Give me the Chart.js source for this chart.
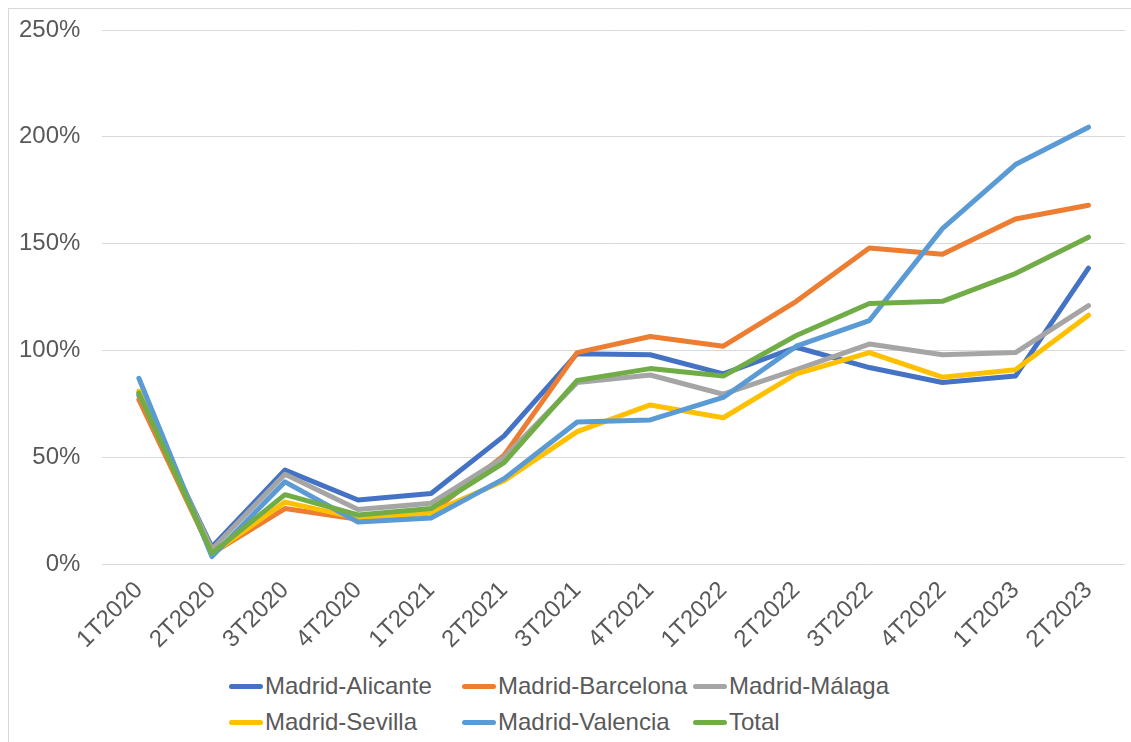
<!DOCTYPE html>
<html>
<head>
<meta charset="utf-8">
<script src="https://cdn.jsdelivr.net/npm/chart.js@4"></script>
<style>
  html, body { margin: 0; padding: 0; background: #fff; }
  body { width: 1131px; height: 742px; position: relative; overflow: hidden; font-family: "Liberation Sans", Arial, sans-serif; }
  #frame { position: absolute; left: 8px; top: 8px; width: 1140px; height: 760px; border: 1px solid #d9d9d9; }
  #wrap { position: absolute; left: 9px; top: 9px; width: 1122px; height: 657px; }
  #legend { position: absolute; left: 229px; top: 671px; display: grid; grid-template-columns: 233px 231px auto; row-gap: 6px; }
  .item { display: flex; align-items: center; height: 30px; font-size: 24px; color: #595959; white-space: nowrap; }
  .swatch { width: 34px; height: 5px; border-radius: 3px; margin-right: 2px; }
</style>
</head>
<body>
<div id="frame"></div>
<div id="wrap"><canvas id="trend-chart"></canvas></div>
<div id="legend"></div>
<script>
const quarters = ['1T2020', '2T2020', '3T2020', '4T2020', '1T2021', '2T2021', '3T2021',
                  '4T2021', '1T2022', '2T2022', '3T2022', '4T2022', '1T2023', '2T2023'];

const alicante  = [79, 8, 44, 30, 33, 60, 98.5, 98, 89, 101.5, 92, 85, 88, 138.5];
const barcelona = [77, 5, 26, 21, 24, 51, 99, 106.5, 102, 123, 148, 145, 161.5, 168];
const malaga    = [80, 7, 42, 25.5, 28.5, 50, 85, 88.5, 79.5, 91, 103, 98, 99, 121];
const sevilla   = [81, 5, 29, 21.5, 24, 39, 62, 74.5, 68.5, 89, 99, 87.5, 91, 116.5];
const valencia  = [87, 3.5, 38.5, 19.7, 21.6, 40, 66.5, 67.5, 78, 102, 114, 157, 187, 204.5];
const total     = [80, 5, 32.5, 23, 26, 47.5, 86, 91.5, 88, 107, 122, 123, 136, 153];

const yTicks = [0, 50, 100, 150, 200, 250];

const series = [
  { label: 'Madrid-Alicante',  data: alicante,  color: '#4472C4' },
  { label: 'Madrid-Barcelona', data: barcelona, color: '#ED7D31' },
  { label: 'Madrid-Málaga',    data: malaga,    color: '#A5A5A5' },
  { label: 'Madrid-Sevilla',   data: sevilla,   color: '#FFC000' },
  { label: 'Madrid-Valencia',  data: valencia,  color: '#5B9BD5' },
  { label: 'Total',            data: total,     color: '#70AD47' },
];

const FONT = '"Liberation Sans", Arial, sans-serif';
const tick = '#595959';

const chart = new Chart(document.getElementById('trend-chart'), {
  type: 'line',
  data: {
    labels: quarters,
    datasets: series.map((s, i) => ({
      label: s.label,
      data: s.data,
      borderColor: s.color,
      backgroundColor: s.color,
      borderWidth: 5,
      pointRadius: 0,
      tension: 0,
      borderCapStyle: 'round',
      borderJoinStyle: 'round',
      order: series.length - i,
    })),
  },
  options: {
    responsive: true,
    maintainAspectRatio: false,
    animation: false,
    layout: { padding: { top: 21, left: -12, right: 6, bottom: 0 } },
    plugins: {
      legend: { display: false },
      tooltip: { enabled: false },
    },
    scales: {
      x: {
        offset: true,
        grid: { display: false, drawTicks: false },
        border: { display: false },
        afterFit: s => { s.paddingLeft = 0; s.paddingRight = 0; },
        ticks: {
          color: tick,
          font: { family: FONT, size: 24 },
          minRotation: 45,
          maxRotation: 45,
          padding: 12,
          autoSkip: false,
        },
      },
      y: {
        min: 0,
        max: 250,
        afterBuildTicks: axis => { axis.ticks = yTicks.map(v => ({ value: v })); },
        afterFit: s => { s.paddingTop = 0; s.paddingBottom = 0; },
        grid: { color: '#D9D9D9', lineWidth: 1, drawTicks: false },
        border: { display: false },
        ticks: {
          color: tick,
          font: { family: FONT, size: 24 },
          padding: 22,
          callback: v => v + '%',
        },
      },
    },
  },
});

const legendEl = document.getElementById('legend');
series.forEach(s => {
  const item = document.createElement('div');
  item.className = 'item';
  item.innerHTML = '<span class="swatch" style="background:' + s.color + '"></span><span>' + s.label + '</span>';
  legendEl.appendChild(item);
});
</script>
</body>
</html>
